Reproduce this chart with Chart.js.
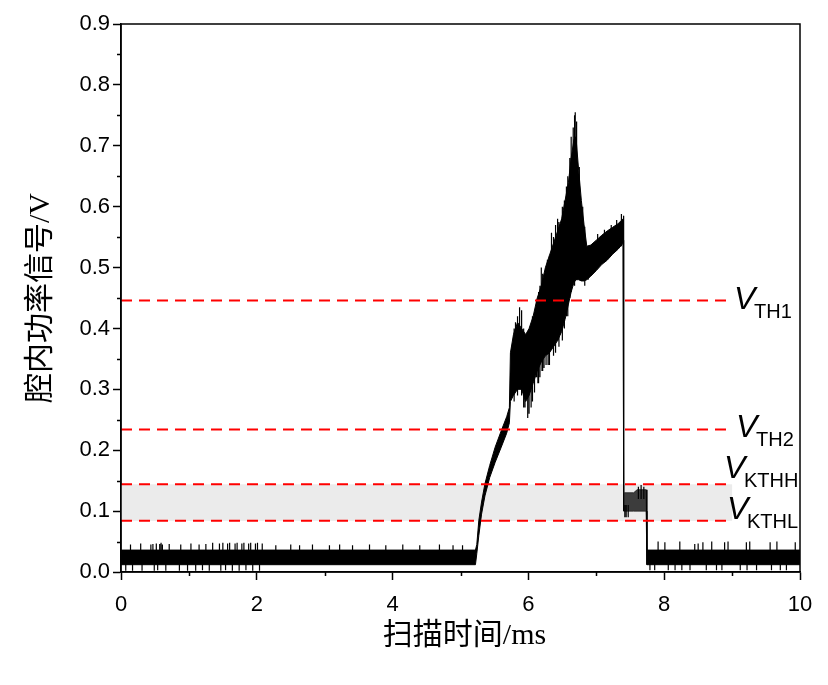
<!DOCTYPE html>
<html>
<head>
<meta charset="utf-8">
<script src="https://cdn.jsdelivr.net/npm/chart.js@4.4.0/dist/chart.umd.min.js"></script>
<style>
html, body { margin: 0; padding: 0; background: #fff; }
</style>
</head>
<body>
<canvas id="chart" width="828" height="685"></canvas>
<script>
// Signal envelope (time in ms, upper / lower edge of the noisy trace in V)
const sigTime = [0.00, 5.22,
    5.24, 5.27, 5.31, 5.36, 5.43, 5.51, 5.60, 5.68, 5.72, 5.735, 5.78, 5.84, 5.90,
    5.96, 6.01, 6.07, 6.13, 6.19, 6.25, 6.31, 6.37, 6.43, 6.49, 6.54, 6.59, 6.63,
    6.67, 6.70, 6.74, 6.78, 6.82, 6.86, 6.92, 7.00, 7.08, 7.16, 7.24, 7.32, 7.395,
    7.40, 7.405, 7.55, 7.60, 7.735, 7.745, 10.00];
const sigUpper = [0.036, 0.036,
    0.045, 0.085, 0.115, 0.145, 0.175, 0.205, 0.232, 0.255, 0.270, 0.360, 0.390, 0.410, 0.400,
    0.390, 0.400, 0.420, 0.450, 0.470, 0.500, 0.520, 0.540, 0.560, 0.580, 0.610, 0.640, 0.680,
    0.710, 0.715, 0.660, 0.610, 0.570, 0.535, 0.537, 0.545, 0.553, 0.560, 0.566, 0.572, 0.580,
    0.585, 0.130, 0.130, 0.135, 0.135, 0.036, 0.036];
const sigLower = [0.012, 0.012,
    0.030, 0.060, 0.095, 0.125, 0.155, 0.180, 0.205, 0.228, 0.245, 0.280, 0.290, 0.300, 0.300,
    0.280, 0.290, 0.310, 0.330, 0.345, 0.355, 0.360, 0.370, 0.380, 0.395, 0.415, 0.440, 0.460,
    0.475, 0.480, 0.480, 0.478, 0.478, 0.480, 0.486, 0.495, 0.505, 0.512, 0.522, 0.530, 0.540,
    0.545, 0.100, 0.100, 0.100, 0.100, 0.012, 0.012];

// Single noise spikes (time in ms, bottom / top in V)
const spikeTime = [0.07, 0.14, 0.17, 0.29, 0.31, 0.44, 0.47, 0.49, 0.52, 0.54, 0.57, 0.59, 0.61,
    0.66, 0.71, 0.86, 0.88, 0.98, 1.03, 1.10, 1.15, 1.20, 1.25, 1.30, 1.35, 1.45, 1.47,
    1.50, 1.54, 1.57, 1.60, 1.64, 1.68, 1.71, 1.74, 1.78, 1.81, 1.84, 1.88, 1.91, 1.94,
    1.98, 2.01, 2.04, 2.08, 2.28, 2.50, 2.63, 2.82, 3.07, 3.22, 3.41, 3.66, 3.90, 4.15,
    4.40, 4.69, 4.89, 5.03,
    5.76, 5.79, 5.81, 5.84, 5.87, 5.90, 5.93, 5.95, 5.99, 6.01, 6.04, 6.06, 6.09, 6.12,
    6.14, 6.15, 6.17, 6.19, 6.20, 6.21, 6.23, 6.24, 6.26, 6.28, 6.29, 6.31, 6.34, 6.37,
    6.40, 6.43, 6.45, 6.47, 6.50, 6.53, 6.56, 6.58, 6.61, 6.63, 6.66, 6.68, 6.69, 6.71,
    6.75, 6.80, 6.83, 6.88, 7.02, 7.12, 7.22, 7.30, 7.37,
    7.42, 7.44, 7.47, 7.62, 7.66, 7.70,
    7.79, 7.86, 7.91, 8.01, 8.06, 8.16, 8.23, 8.26, 8.38, 8.45, 8.50, 8.57, 8.62, 8.70,
    8.77, 8.85, 8.89, 8.94, 9.12, 9.21, 9.22, 9.26, 9.36, 9.56, 9.58, 9.66, 9.71, 9.80, 9.93];
const spikeLow = [0.002, 0.030, 0.002, 0.030, 0.002, 0.030, 0.030, 0.002, 0.030, 0.003, 0.030, 0.030, 0.030,
    0.002, 0.030, 0.002, 0.030, 0.002, 0.030, 0.002, 0.030, 0.003, 0.030, 0.002, 0.030, 0.030, 0.002,
    0.030, 0.003, 0.030, 0.030, 0.002, 0.030, 0.030, 0.002, 0.030, 0.030, 0.003, 0.030, 0.030, 0.002,
    0.030, 0.030, 0.002, 0.030, 0.030, 0.030, 0.030, 0.030, 0.030, 0.030, 0.030, 0.030, 0.030, 0.030,
    0.030, 0.030, 0.030, 0.030,
    0.290, 0.280, 0.300, 0.290, 0.320, 0.290, 0.270, 0.270, 0.253, 0.260, 0.270, 0.280, 0.295, 0.320,
    0.310, 0.310, 0.320, 0.350, 0.330, 0.330, 0.335, 0.360, 0.340, 0.360, 0.340, 0.340, 0.370, 0.355,
    0.360, 0.380, 0.370, 0.390, 0.380, 0.400, 0.420, 0.420, 0.450, 0.460, 0.480, 0.470, 0.480, 0.480,
    0.480, 0.480, 0.470, 0.480, 0.500, 0.510, 0.520, 0.530, 0.535,
    0.090, 0.090, 0.090, 0.120, 0.120, 0.120,
    0.003, 0.003, 0.030, 0.030, 0.003, 0.003, 0.030, 0.003, 0.003, 0.030, 0.030, 0.030, 0.003, 0.030,
    0.003, 0.003, 0.030, 0.030, 0.003, 0.030, 0.003, 0.030, 0.003, 0.030, 0.003, 0.030, 0.003, 0.003, 0.030];
const spikeHigh = [0.015, 0.045, 0.015, 0.047, 0.015, 0.045, 0.046, 0.015, 0.047, 0.015, 0.046, 0.048, 0.045,
    0.015, 0.046, 0.015, 0.045, 0.015, 0.047, 0.015, 0.045, 0.015, 0.046, 0.015, 0.048, 0.047, 0.015,
    0.048, 0.015, 0.047, 0.048, 0.015, 0.047, 0.048, 0.015, 0.047, 0.048, 0.015, 0.047, 0.048, 0.015,
    0.047, 0.048, 0.015, 0.047, 0.044, 0.045, 0.044, 0.045, 0.044, 0.045, 0.044, 0.045, 0.044, 0.045,
    0.044, 0.045, 0.044, 0.044,
    0.370, 0.400, 0.410, 0.420, 0.435, 0.430, 0.400, 0.380, 0.360, 0.390, 0.380, 0.420, 0.410, 0.447,
    0.400, 0.460, 0.470, 0.500, 0.420, 0.490, 0.420, 0.480, 0.500, 0.513, 0.440, 0.520, 0.557, 0.550,
    0.570, 0.580, 0.575, 0.560, 0.600, 0.610, 0.633, 0.650, 0.680, 0.715, 0.730, 0.750, 0.755, 0.740,
    0.665, 0.600, 0.567, 0.534, 0.555, 0.562, 0.570, 0.578, 0.588,
    0.110, 0.110, 0.110, 0.140, 0.143, 0.140,
    0.015, 0.015, 0.050, 0.049, 0.015, 0.015, 0.050, 0.015, 0.015, 0.046, 0.047, 0.049, 0.015, 0.050,
    0.015, 0.015, 0.049, 0.050, 0.015, 0.049, 0.015, 0.050, 0.015, 0.049, 0.015, 0.050, 0.015, 0.015, 0.049];

// Threshold levels
const thresholdNames = ['TH1', 'TH2', 'KTHH', 'KTHL'];
const thresholdValues = [0.446, 0.234, 0.144, 0.084];
const thresholdEnd = 8.95;
const bandEnd = 9.0;

// Plateau after the drop (drawn dark grey like the dense trace there)
const plateauRange = [7.405, 7.735];

// Axis ticks
const xMajorTicks = [0, 2, 4, 6, 8, 10];
const xMinorTicks = [1, 3, 5, 7, 9];
const yMinorTicks = [0.05, 0.15, 0.25, 0.35, 0.45, 0.55, 0.65, 0.75, 0.85];

const tickFont = { family: '"Liberation Sans", Arial, sans-serif', size: 22 };
const titleFont = '30px "Liberation Serif", "Noto Sans CJK SC", serif';

// Build datasets
const upperData = sigTime.map((t, i) => ({ x: t, y: sigUpper[i] }));
const lowerData = sigTime.map((t, i) => ({ x: t, y: sigLower[i] }));
const spikeOrder = spikeTime.map((t, i) => i).sort((a, b) => spikeTime[a] - spikeTime[b]);
const spikeData = [];
spikeOrder.forEach(i => {
    const t = spikeTime[i];
    spikeData.push({ x: t, y: spikeLow[i] }, { x: t, y: spikeHigh[i] }, { x: t, y: null });
});

const inPlateau = ctx => ctx.p0.parsed.x >= plateauRange[0] && ctx.p1.parsed.x <= plateauRange[1];

const thresholdSets = thresholdValues.map(v => ({
    data: [{ x: 0, y: v }, { x: thresholdEnd, y: v }],
    borderColor: '#ff0000',
    borderWidth: 2,
    borderDash: [11, 7],
    pointRadius: 0,
    fill: false,
    order: 0
}));

// Background band, frame, minor ticks, titles and labels
const decorPlugin = {
    id: 'decor',
    beforeDatasetsDraw(chart) {
        const { ctx, scales: { x, y } } = chart;
        ctx.save();
        ctx.fillStyle = '#ebebeb';
        const x0 = x.getPixelForValue(0);
        const x1 = x.getPixelForValue(bandEnd);
        const yTop = y.getPixelForValue(thresholdValues[2]);
        const yBot = y.getPixelForValue(thresholdValues[3]);
        ctx.fillRect(x0, yTop, x1 - x0, yBot - yTop);
        ctx.restore();
    },
    afterDraw(chart) {
        const { ctx, chartArea: a, scales: { x, y } } = chart;
        ctx.save();
        ctx.strokeStyle = '#000';
        ctx.lineWidth = 1.5;
        ctx.strokeRect(a.left, a.top, a.right - a.left, a.bottom - a.top);

        // minor ticks
        ctx.beginPath();
        yMinorTicks.forEach(v => {
            const py = Math.round(y.getPixelForValue(v)) + 0.5;
            ctx.moveTo(a.left, py);
            ctx.lineTo(a.left - 4, py);
        });
        xMinorTicks.forEach(v => {
            const px = Math.round(x.getPixelForValue(v)) + 0.5;
            ctx.moveTo(px, a.bottom);
            ctx.lineTo(px, a.bottom + 4);
        });
        ctx.stroke();

        // axis titles
        ctx.fillStyle = '#000';
        ctx.font = titleFont;
        ctx.textAlign = 'center';
        ctx.textBaseline = 'middle';
        ctx.fillText('扫描时间/ms', (a.left + a.right) / 2 + 4, 636);
        ctx.translate(41, (a.top + a.bottom) / 2);
        ctx.rotate(-Math.PI / 2);
        ctx.fillText('腔内功率信号/V', 0, 0);
        ctx.restore();

        // threshold labels
        const labelLeft = [734, 736, 724, 727];
        const labelDy = [9, 7, -6, -2];
        ctx.save();
        ctx.fillStyle = '#000';
        ctx.textAlign = 'left';
        ctx.textBaseline = 'alphabetic';
        thresholdNames.forEach((name, i) => {
            const base = y.getPixelForValue(thresholdValues[i]) + labelDy[i];
            ctx.font = 'italic 32px "Liberation Sans", Arial, sans-serif';
            ctx.fillText('V', labelLeft[i], base);
            ctx.font = '20px "Liberation Sans", Arial, sans-serif';
            ctx.fillText(name, labelLeft[i] + 20, base + 9);
        });
        ctx.restore();
    }
};

new Chart(document.getElementById('chart'), {
    type: 'line',
    data: {
        datasets: [
            {
                data: upperData,
                borderColor: '#000',
                borderWidth: 1,
                pointRadius: 0,
                fill: false,
                order: 2,
                segment: { borderColor: ctx => inPlateau(ctx) ? '#2a2a2a' : undefined }
            },
            {
                data: lowerData,
                borderColor: '#000',
                borderWidth: 1,
                pointRadius: 0,
                backgroundColor: '#000',
                fill: '-1',
                order: 2,
                segment: {
                    borderColor: ctx => inPlateau(ctx) ? '#2a2a2a' : undefined,
                    backgroundColor: ctx => inPlateau(ctx) ? '#3c3c3c' : undefined
                }
            },
            {
                data: spikeData,
                borderColor: '#000',
                borderWidth: 1.2,
                pointRadius: 0,
                spanGaps: false,
                fill: false,
                order: 1
            },
            ...thresholdSets
        ]
    },
    options: {
        responsive: false,
        animation: false,
        events: [],
        layout: { padding: { left: 0, top: 24, right: 28, bottom: 0 } },
        plugins: {
            legend: { display: false },
            tooltip: { enabled: false }
        },
        scales: {
            x: {
                type: 'linear',
                min: 0,
                max: 10,
                afterBuildTicks: s => { s.ticks = xMajorTicks.map(v => ({ value: v })); },
                afterFit: s => { s.height = 113; },
                ticks: { font: tickFont, color: '#000', padding: 12, maxRotation: 0 },
                grid: { drawOnChartArea: false, tickLength: 8, tickWidth: 1.5, color: '#000' },
                border: { color: '#000', width: 1.5 }
            },
            y: {
                min: 0,
                max: 0.9,
                afterFit: s => { s.width = 121; },
                ticks: { stepSize: 0.1, font: tickFont, color: '#000', padding: 3, callback: v => v.toFixed(1) },
                grid: { drawOnChartArea: false, tickLength: 8, tickWidth: 1.5, color: '#000' },
                border: { color: '#000', width: 1.5 }
            }
        }
    },
    plugins: [decorPlugin]
});
</script>
</body>
</html>
